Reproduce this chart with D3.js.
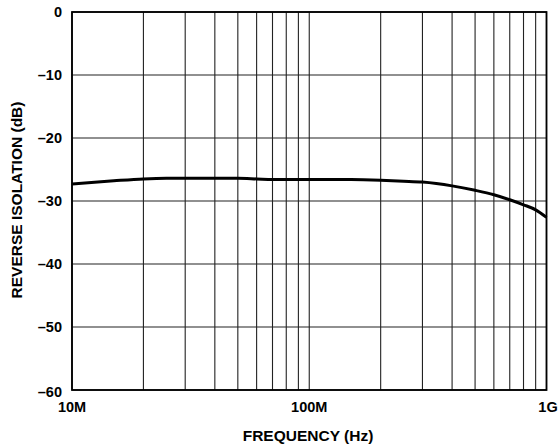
<!DOCTYPE html>
<html>
<head>
<meta charset="utf-8">
<script src="https://cdn.jsdelivr.net/npm/d3@7"></script>
<style>
body{margin:0;background:#fff;}
svg{display:block;}
text{font-family:"Liberation Sans",Arial,sans-serif;font-weight:bold;fill:#000;}
</style>
</head>
<body>
<svg id="chart" width="560" height="448"></svg>
<script>
const freqHz = [10e6, 15e6, 20e6, 25e6, 30e6, 40e6, 50e6, 60e6, 70e6, 100e6, 150e6, 200e6, 250e6, 300e6, 400e6, 500e6, 600e6, 700e6, 800e6, 900e6, 1e9];
const isolationDb = [-27.3, -26.8, -26.5, -26.4, -26.4, -26.4, -26.4, -26.5, -26.6, -26.6, -26.6, -26.7, -26.85, -27.0, -27.6, -28.3, -29.0, -29.8, -30.6, -31.4, -32.6];
const yTicks = [0, -10, -20, -30, -40, -50, -60];
const xTickVals = [10e6, 100e6, 1e9];
const xTickLabels = ["10M", "100M", "1G"];
const xTitle = "FREQUENCY (Hz)";
const yTitle = "REVERSE ISOLATION (dB)";

const svg = d3.select("#chart");
const L = 72, R = 546.5, T = 12, B = 390;
const x = d3.scaleLog().domain([10e6, 1e9]).range([L, R]);
const y = d3.scaleLinear().domain([-60, 0]).range([B, T]);

// minor grid (every frequency multiple)
const gridX = [];
for (let d = 10e6; d < 1e9; d *= 10) for (let k = 1; k <= 9; k++) gridX.push(d * k);
gridX.push(1e9);

const g = svg.append("g");
g.selectAll("line.vx").data(gridX).join("line")
  .attr("x1", d => x(d)).attr("x2", d => x(d))
  .attr("y1", T).attr("y2", B)
  .attr("stroke", "#222").attr("stroke-width", 1.1);
g.selectAll("line.hy").data(yTicks).join("line")
  .attr("x1", L).attr("x2", R)
  .attr("y1", d => y(d)).attr("y2", d => y(d))
  .attr("stroke", "#222").attr("stroke-width", 1.1);

// frame
svg.append("rect").attr("x", L).attr("y", T).attr("width", R - L).attr("height", B - T)
  .attr("fill", "none").attr("stroke", "#000").attr("stroke-width", 1.8);

// curve
const line = d3.line().x((d, i) => x(freqHz[i])).y(d => y(d)).curve(d3.curveMonotoneX);
svg.append("path").datum(isolationDb).attr("d", line)
  .attr("fill", "none").attr("stroke", "#000").attr("stroke-width", 3);

// y tick labels
svg.selectAll("text.yt").data(yTicks).join("text")
  .attr("x", 62).attr("y", d => y(d) + (d === -60 ? 2 : 0)).attr("dy", "0.36em")
  .attr("text-anchor", "end").attr("font-size", 14.5)
  .text(d => d === 0 ? "0" : "\u2013" + Math.abs(d));

// x tick labels
svg.selectAll("text.xt").data(xTickVals).join("text")
  .attr("x", (d, i) => i === xTickVals.length - 1 ? x(d) + 1.5 : x(d)).attr("y", 412)
  .attr("text-anchor", "middle").attr("font-size", 14.5)
  .text((d, i) => xTickLabels[i]);

svg.append("text").attr("x", 308).attr("y", 441).attr("text-anchor", "middle")
  .attr("font-size", 15.5).text(xTitle);
svg.append("text").attr("transform", "translate(21.5,200) rotate(-90)")
  .attr("text-anchor", "middle").attr("font-size", 15.5).text(yTitle);
</script>
</body>
</html>
